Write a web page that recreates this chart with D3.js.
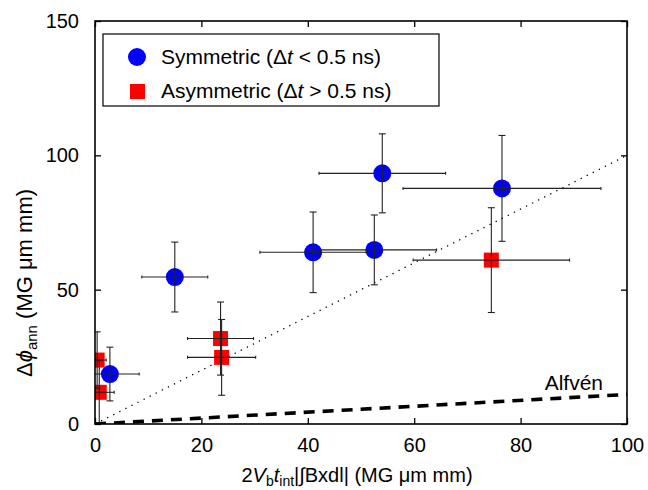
<!DOCTYPE html>
<html>
<head>
<meta charset="utf-8">
<script src="https://cdn.jsdelivr.net/npm/d3@7"></script>
<style>
  body { margin: 0; background: #fff; }
  svg { font-family: "Liberation Sans", Arial, sans-serif; }
</style>
</head>
<body>
<svg width="648" height="490"></svg>
<script>
// symmetric shots (dt < 0.5 ns)
const symX = [2.8, 15.0, 41.0, 52.5, 54.0, 76.5]
const symY = [18.6, 54.7, 63.9, 64.8, 93.3, 87.7]
const symXErr = [5.5, 6.2, 10, 11.7, 11.9, 18.6]
const symYErr = [10, 13, 15, 13, 14.7, 19.7]

// asymmetric shots (dt > 0.5 ns)
const asymX = [0.4, 0.8, 23.6, 23.8, 74.5]
const asymY = [23.8, 11.8, 31.8, 24.8, 61.0]
const asymXErr = [1.7, 2.8, 6.2, 6.4, 14.7]
const asymYErr = [10.5, 12, 13.6, 14.1, 19.5]

const xTicks = [0, 20, 40, 60, 80, 100]
const yTicks = [0, 50, 100, 150]
const unityLine = [[0, 0], [100, 100]]
const alfvenLine = [[0, 0], [100, 11]]

const svg = d3.select("svg")
const margin = { top: 21, right: 21, bottom: 66, left: 95 }
const width = +svg.attr("width") - margin.left - margin.right
const height = +svg.attr("height") - margin.top - margin.bottom
const g = svg.append("g")
  .attr("transform", "translate(" + margin.left + "," + margin.top + ")")

const x = d3.scaleLinear().domain([0, 100]).range([0, width])
const y = d3.scaleLinear().domain([0, 150]).range([height, 0])

svg.append("defs").append("clipPath").attr("id", "clip")
  .append("rect").attr("width", width).attr("height", height)

const plot = g.append("g").attr("clip-path", "url(#clip)")

const line = d3.line().x((d) => x(d[0])).y((d) => y(d[1]))

plot.append("path").attr("d", line(unityLine))
  .attr("fill", "none").attr("stroke", "#000").attr("stroke-width", 1.3)
  .attr("stroke-dasharray", "1.3,5.5")

plot.append("path").attr("d", line(alfvenLine))
  .attr("fill", "none").attr("stroke", "#000").attr("stroke-width", 3.6)
  .attr("stroke-dasharray", "11,8")

const sym = symX.map((v, i) => ({ x: v, y: symY[i], ex: symXErr[i], ey: symYErr[i] }))
const asym = asymX.map((v, i) => ({ x: v, y: asymY[i], ex: asymXErr[i], ey: asymYErr[i] }))

// markers
plot.selectAll(".sym").data(sym).enter().append("circle")
  .attr("cx", (d) => x(d.x)).attr("cy", (d) => y(d.y)).attr("r", 9)
  .attr("fill", "#0000ff")

plot.selectAll(".asym").data(asym).enter().append("rect")
  .attr("x", (d) => x(d.x) - 7.5).attr("y", (d) => y(d.y) - 7.5)
  .attr("width", 15).attr("height", 15)
  .attr("fill", "#ff0000")

// error bars on top
function errorBars(data) {
  const eb = plot.append("g").attr("stroke", "#222").attr("stroke-width", 1.1).attr("fill", "none")
  data.forEach((d) => {
    const cx = x(d.x), cy = y(d.y)
    const x0 = x(d.x - d.ex), x1 = x(d.x + d.ex)
    const y0 = y(d.y - d.ey), y1 = y(d.y + d.ey)
    eb.append("line").attr("x1", x0).attr("x2", x1).attr("y1", cy).attr("y2", cy)
    eb.append("line").attr("x1", x0).attr("x2", x0).attr("y1", cy - 1.5).attr("y2", cy + 1.5)
    eb.append("line").attr("x1", x1).attr("x2", x1).attr("y1", cy - 1.5).attr("y2", cy + 1.5)
    eb.append("line").attr("x1", cx).attr("x2", cx).attr("y1", y0).attr("y2", y1)
    eb.append("line").attr("x1", cx - 3.5).attr("x2", cx + 3.5).attr("y1", y0).attr("y2", y0)
    eb.append("line").attr("x1", cx - 3.5).attr("x2", cx + 3.5).attr("y1", y1).attr("y2", y1)
  })
}
errorBars(sym)
errorBars(asym)

// axes with inward ticks on all sides
const tickFont = (sel) => sel.selectAll("text").attr("font-size", 20).attr("fill", "#000")
g.append("g").attr("transform", "translate(0," + height + ")")
  .call(d3.axisBottom(x).tickValues(xTicks).tickSizeInner(-6).tickSizeOuter(0).tickPadding(14))
  .call((a) => a.select(".domain").remove())
  .call(tickFont)
g.append("g")
  .call(d3.axisTop(x).tickValues(xTicks).tickSizeInner(-6).tickSizeOuter(0))
  .call((a) => { a.select(".domain").remove(); a.selectAll("text").remove() })
g.append("g")
  .call(d3.axisLeft(y).tickValues(yTicks).tickSizeInner(-6).tickSizeOuter(0).tickPadding(16))
  .call((a) => a.select(".domain").remove())
  .call(tickFont)
g.append("g").attr("transform", "translate(" + width + ",0)")
  .call(d3.axisRight(y).tickValues(yTicks).tickSizeInner(-6).tickSizeOuter(0))
  .call((a) => { a.select(".domain").remove(); a.selectAll("text").remove() })
g.selectAll(".tick line").attr("stroke", "#000").attr("stroke-width", 1.3)

g.append("rect").attr("width", width).attr("height", height)
  .attr("fill", "none").attr("stroke", "#000").attr("stroke-width", 1.6)

// legend
const leg = g.append("g").attr("transform", "translate(8,13)")
leg.append("rect").attr("width", 336).attr("height", 72)
  .attr("fill", "#fff").attr("stroke", "#000").attr("stroke-width", 1.2)
leg.append("circle").attr("cx", 34).attr("cy", 23).attr("r", 9).attr("fill", "#0000ff")
leg.append("rect").attr("x", 27).attr("y", 50).attr("width", 15).attr("height", 15).attr("fill", "#ff0000")
const lt1 = leg.append("text").attr("x", 58).attr("y", 30).attr("font-size", 21)
lt1.append("tspan").text("Symmetric (Δ")
lt1.append("tspan").attr("font-style", "italic").text("t")
lt1.append("tspan").text(" < 0.5 ns)")
const lt2 = leg.append("text").attr("x", 58).attr("y", 64).attr("font-size", 21)
lt2.append("tspan").text("Asymmetric (Δ")
lt2.append("tspan").attr("font-style", "italic").text("t")
lt2.append("tspan").text(" > 0.5 ns)")

// Alfvén label
g.append("text").attr("x", 508).attr("y", 369).attr("text-anchor", "end")
  .attr("font-size", 21).text("Alfvén")

// x label
const xl = svg.append("text").attr("x", 357).attr("y", 482).attr("text-anchor", "middle")
  .attr("font-size", 20)
xl.append("tspan").text("2")
xl.append("tspan").attr("font-style", "italic").text("V")
xl.append("tspan").attr("font-size", 14).attr("dy", 4).text("b")
xl.append("tspan").attr("font-style", "italic").attr("dy", -4).text("t")
xl.append("tspan").attr("font-size", 14).attr("dy", 4).text("int")
xl.append("tspan").attr("dy", -4).text("|∫Bxdl| (MG μm mm)")

// y label
const yl = svg.append("text").attr("transform", "translate(32,283) rotate(-90)")
  .attr("text-anchor", "middle").attr("font-size", 22)
yl.append("tspan").text("Δ")
yl.append("tspan").attr("font-style", "italic").text("ϕ")
yl.append("tspan").attr("font-size", 15).attr("dy", 5).text("ann")
yl.append("tspan").attr("dy", -5).text(" (MG μm mm)")
</script>
</body>
</html>
